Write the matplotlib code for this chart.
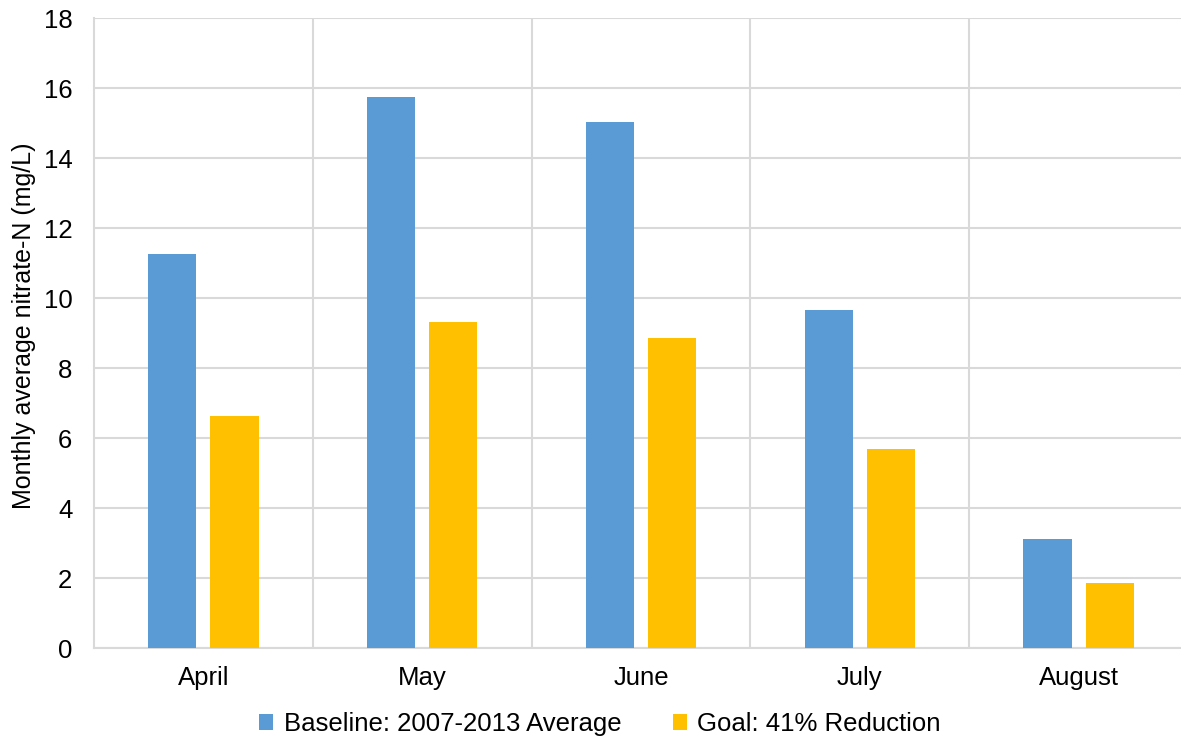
import numpy as np
import matplotlib
matplotlib.use('Agg')
import matplotlib.pyplot as plt

months = ['April', 'May', 'June', 'July', 'August']
baseline = [11.26, 15.74, 15.03, 9.66, 3.11]
goal = [6.63, 9.31, 8.86, 5.69, 1.86]

plt.rcParams['font.family'] = ['Liberation Sans', 'DejaVu Sans']

fig = plt.figure(figsize=(11.81, 7.40), dpi=100)
# plot area runs past the right edge, as in the original
ax = fig.add_axes([94 / 1181, 92 / 740, 1094 / 1181, 630 / 740])

x = np.arange(len(months))
w = 0.22
off = 0.142
ax.bar(x - off, baseline, w, color='#5B9BD5', label='Baseline: 2007-2013 Average', zorder=3)
ax.bar(x + off, goal, w, color='#FFC000', label='Goal: 41% Reduction', zorder=3)

ax.set_xlim(-0.5, len(months) - 0.5)
ax.set_ylim(0, 18)
ax.set_yticks(range(0, 19, 2))
ax.set_xticks(x)
ax.set_xticklabels(months)
ax.tick_params(axis='both', length=0, labelsize=18.5, colors='#000000')
ax.tick_params(axis='y', pad=15.5)
ax.tick_params(axis='x', pad=13)

ax.set_xticks(np.arange(0.5, len(months) - 0.5, 1), minor=True)
ax.tick_params(axis='x', which='minor', length=0)
ax.grid(axis='y', color='#d9d9d9', linewidth=1.5, zorder=0)
ax.grid(axis='x', which='minor', color='#d9d9d9', linewidth=1.5, zorder=0)
ax.grid(axis='x', which='major', visible=False)

for side in ['top', 'right']:
    ax.spines[side].set_visible(False)
for side in ['left', 'bottom']:
    ax.spines[side].set_color('#d9d9d9')
    ax.spines[side].set_linewidth(1.5)

fig.text(24 / 1181, 1 - 326 / 740, 'Monthly average nitrate-N (mg/L)', rotation=90,
         ha='center', va='center', fontsize=18)

fig.legend(loc='center', bbox_to_anchor=(600 / 1181, 1 - 724 / 740), ncol=2,
           frameon=False, fontsize=18.5, handlelength=0.55, handleheight=0.55,
           handletextpad=0.4, columnspacing=2.0)

fig.savefig('out.png', dpi=100)
